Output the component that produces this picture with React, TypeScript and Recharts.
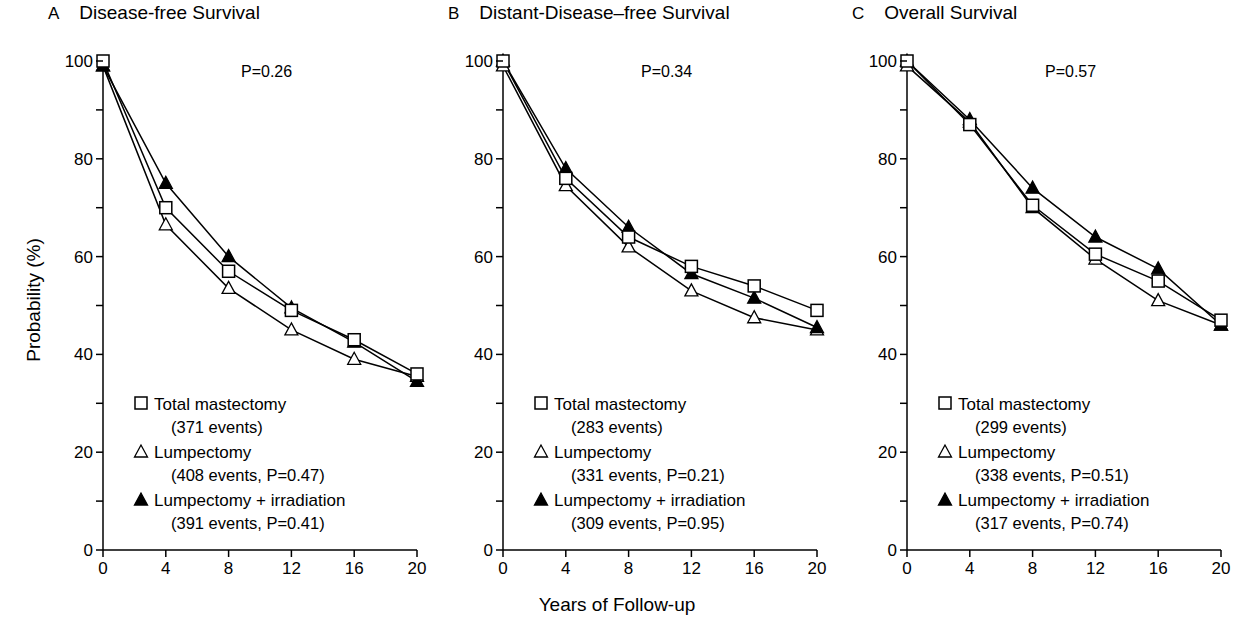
import React from 'react';
import { LineChart, Line, XAxis, YAxis } from 'recharts';

const years = [0, 4, 8, 12, 16, 20];
const xTicks = [0, 4, 8, 12, 16, 20];
const yTicks = [0, 10, 20, 30, 40, 50, 60, 70, 80, 90, 100];

const aTM = [100, 70, 57, 49, 43, 36];
const aL = [99, 66.5, 53.5, 45, 39, 35.5];
const aLI = [99, 75, 60, 49.5, 42.5, 34.5];
const bTM = [100, 76, 64, 58, 54, 49];
const bL = [99, 74.5, 62, 53, 47.5, 45];
const bLI = [100, 78, 66, 56.5, 51.5, 45.5];
const cTM = [100, 87, 70.5, 60.5, 55, 47];
const cL = [99, 87.5, 70, 59.5, 51, 46];
const cLI = [100, 88, 74, 64, 57.5, 46];

const panels = [
  { letter: 'A', title: 'Disease-free Survival', p: 'P=0.26', tm: aTM, l: aL, li: aLI, ev: ['(371 events)', '(408 events, P=0.47)', '(391 events, P=0.41)'], left: 103 },
  { letter: 'B', title: 'Distant-Disease\u2013free Survival', p: 'P=0.34', tm: bTM, l: bL, li: bLI, ev: ['(283 events)', '(331 events, P=0.21)', '(309 events, P=0.95)'], left: 503 },
  { letter: 'C', title: 'Overall Survival', p: 'P=0.57', tm: cTM, l: cL, li: cLI, ev: ['(299 events)', '(338 events, P=0.51)', '(317 events, P=0.74)'], left: 907 },
];

const FONT = '"Liberation Sans", Arial, sans-serif';
const PW = 314, PH = 489, TOP = 61;

const Square = (props: any) => {
  const { cx, cy } = props;
  if (cx == null) return null;
  return <rect x={cx - 6} y={cy - 6} width={12} height={12} fill="#fff" stroke="#000" strokeWidth={1.5} />;
};
const Tri = (fill: string) => (props: any) => {
  const { cx, cy } = props;
  if (cx == null) return null;
  return <polygon points={`${cx},${cy - 7} ${cx - 6.5},${cy + 5} ${cx + 6.5},${cy + 5}`} fill={fill} stroke="#000" strokeWidth={1.3} />;
};

const YTick = (props: any) => {
  const { x, y, payload } = props;
  const major = payload.value % 20 === 0;
  return (
    <g>
      <line x1={x - 7} x2={x} y1={y} y2={y} stroke="#000" strokeWidth={1.5} />
      {major && (
        <text x={x - 10} y={y + 6} textAnchor="end" fontSize={17} fontFamily={FONT} fill="#000">{payload.value}</text>
      )}
    </g>
  );
};
const XTick = (props: any) => {
  const { x, y, payload } = props;
  return (
    <g>
      <line x1={x} x2={x} y1={y} y2={y + 7} stroke="#000" strokeWidth={1.5} />
      <text x={x} y={y + 24} textAnchor="middle" fontSize={17} fontFamily={FONT} fill="#000">{payload.value}</text>
    </g>
  );
};

const LegendMark = ({ kind }: { kind: string }) => (
  <svg width={16} height={16} style={{ position: 'absolute', left: 0, top: 2 }}>
    {kind === 'sq' && <rect x={2} y={2} width={12} height={12} fill="#fff" stroke="#000" strokeWidth={1.5} />}
    {kind !== 'sq' && <polygon points="8,2 1.5,14 14.5,14" fill={kind === 'tf' ? '#000' : '#fff'} stroke="#000" strokeWidth={1.3} />}
  </svg>
);

function Panel({ pn }: { pn: any }) {
  const data = years.map((y, i) => ({ y, tm: pn.tm[i], l: pn.l[i], li: pn.li[i] }));
  const ML = 60;
  return (
    <>
      <div style={{ position: 'absolute', left: pn.left - ML, top: TOP - 20 }}>
        <LineChart width={ML + PW + 15} height={20 + PH + 40} data={data} margin={{ top: 20, right: 15, bottom: 10, left: 0 }}>
          <XAxis dataKey="y" type="number" domain={[0, 20]} ticks={xTicks} tick={<XTick />} tickLine={false} tickSize={0} tickMargin={0} axisLine={{ stroke: '#000', strokeWidth: 1.5 }} height={30} interval={0} />
          <YAxis type="number" domain={[0, 100]} ticks={yTicks} tick={<YTick />} tickLine={false} tickSize={0} tickMargin={0} axisLine={{ stroke: '#000', strokeWidth: 1.5 }} width={ML} interval={0} />
          <Line dataKey="l" stroke="#000" strokeWidth={1.5} dot={Tri('#fff')} isAnimationActive={false} />
          <Line dataKey="li" stroke="#000" strokeWidth={1.5} dot={Tri('#000')} isAnimationActive={false} />
          <Line dataKey="tm" stroke="#000" strokeWidth={1.5} dot={<Square />} isAnimationActive={false} />
        </LineChart>
      </div>
      <div style={{ position: 'absolute', left: pn.left - 55, top: 2, fontSize: 19, fontFamily: FONT, whiteSpace: 'nowrap' }}>
        <span style={{ fontSize: 17 }}>{pn.letter}</span><span style={{ marginLeft: 20 }}>{pn.title}</span>
      </div>
      <div style={{ position: 'absolute', left: pn.left + 138, top: 63, fontSize: 16, fontFamily: FONT }}>{pn.p}</div>
      <div style={{ position: 'absolute', left: pn.left + 30, top: 393, fontSize: 17, fontFamily: FONT, lineHeight: '23px', whiteSpace: 'nowrap' }}>
        {[['sq', 'Total mastectomy'], ['to', 'Lumpectomy'], ['tf', 'Lumpectomy + irradiation']].map(([k, t], i) => (
          <div key={k} style={{ position: 'relative', marginBottom: 2 }}>
            <div style={{ position: 'relative', paddingLeft: 21 }}><LegendMark kind={k} />{t}</div>
            <div style={{ paddingLeft: 38, fontSize: 16.5 }}>{pn.ev[i]}</div>
          </div>
        ))}
      </div>
    </>
  );
}

export default function App() {
  return (
    <div style={{ position: 'absolute', left: 0, top: 0, width: 1234, height: 622, background: '#fff', fontFamily: FONT }}>
      {panels.map(p => <Panel key={p.letter} pn={p} />)}
      <div style={{ position: 'absolute', left: 6, top: 300, transform: 'translate(0,-50%) rotate(-90deg)', transformOrigin: 'center', fontSize: 19, width: 160, marginLeft: -52, textAlign: 'center' }}>Probability (%)</div>
      <div style={{ position: 'absolute', left: 0, width: 1234, top: 594, textAlign: 'center', fontSize: 19 }}>Years of Follow-up</div>
    </div>
  );
}
